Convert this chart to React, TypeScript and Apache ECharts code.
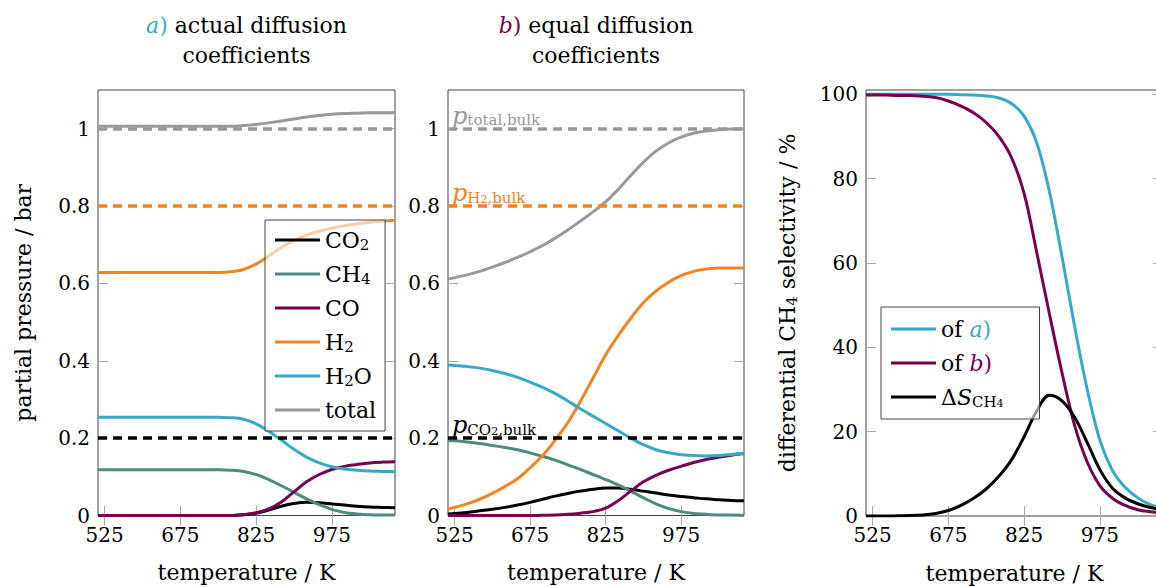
import React, { useEffect, useRef } from "react";
import * as echarts from "echarts";

const FONT = "DejaVu Serif";

const C_BLACK = "#000000";
const C_TEAL = "#4f8a7e";
const C_PURPLE = "#780050";
const C_ORANGE = "#f28420";
const C_BLUE = "#37a9c8";
const C_GREY = "#999999";

const X_TICKS = [525, 675, 825, 975];
const P_TICKS = [0, 0.2, 0.4, 0.6, 0.8, 1];
const S_TICKS = [0, 20, 40, 60, 80, 100];

const T_MIN = 512;
const T_MAX = 1100;

// bulk partial pressures (dashed reference lines)
const BULK_VALUES = [1.0, 0.8, 0.2];
const BULK_COLORS = [C_GREY, C_ORANGE, C_BLACK];
const BULK_LABELS = ["{p|p}{s|total,bulk}", "{p|p}{s|H}{ss|2}{s|,bulk}", "{p|p}{s|CO}{ss|2}{s|,bulk}"];

// temperature grid (K)
const TEMPS = [512, 525, 550, 575, 600, 625, 650, 675, 700, 725, 750, 775, 800, 825, 850, 875, 900, 925, 950, 975, 1000, 1025, 1050, 1075, 1100];

// a) actual diffusion coefficients — partial pressures / bar
const CO2_A = [0, 0, 0, 0, 0, 0, 0, 0, 0, 0, 0, 0, 0.002, 0.006, 0.014, 0.024, 0.031, 0.034, 0.033, 0.03, 0.027, 0.024, 0.022, 0.021, 0.02];
const CH4_A = [0.118, 0.118, 0.118, 0.118, 0.118, 0.118, 0.118, 0.118, 0.118, 0.118, 0.118, 0.117, 0.114, 0.106, 0.093, 0.077, 0.06, 0.043, 0.028, 0.016, 0.008, 0.004, 0.002, 0.001, 0.001];
const CO_A = [0, 0, 0, 0, 0, 0, 0, 0, 0, 0, 0, 0, 0.002, 0.007, 0.017, 0.035, 0.061, 0.087, 0.106, 0.119, 0.127, 0.132, 0.136, 0.138, 0.139];
const H2_A = [0.628, 0.628, 0.628, 0.628, 0.628, 0.628, 0.628, 0.628, 0.628, 0.628, 0.628, 0.63, 0.636, 0.65, 0.671, 0.693, 0.711, 0.725, 0.735, 0.743, 0.749, 0.754, 0.758, 0.761, 0.763];
const H2O_A = [0.254, 0.254, 0.254, 0.254, 0.254, 0.254, 0.254, 0.254, 0.254, 0.254, 0.254, 0.253, 0.249, 0.237, 0.218, 0.195, 0.171, 0.151, 0.136, 0.126, 0.12, 0.117, 0.115, 0.114, 0.113];
const TOTAL_A = [1.006, 1.006, 1.006, 1.006, 1.006, 1.006, 1.006, 1.006, 1.006, 1.006, 1.006, 1.006, 1.008, 1.011, 1.015, 1.02, 1.025, 1.03, 1.034, 1.037, 1.039, 1.04, 1.041, 1.041, 1.041];

// b) equal diffusion coefficients — partial pressures / bar
const CO2_B = [0.004, 0.005, 0.008, 0.012, 0.016, 0.021, 0.027, 0.034, 0.042, 0.05, 0.057, 0.063, 0.068, 0.071, 0.071, 0.068, 0.063, 0.058, 0.053, 0.049, 0.046, 0.043, 0.041, 0.039, 0.038];
const CH4_B = [0.194, 0.193, 0.19, 0.186, 0.181, 0.176, 0.17, 0.162, 0.153, 0.143, 0.131, 0.119, 0.106, 0.093, 0.079, 0.063, 0.046, 0.03, 0.018, 0.01, 0.005, 0.003, 0.001, 0.001, 0];
const CO_B = [0, 0, 0, 0, 0, 0, 0, 0, 0.0005, 0.001, 0.003, 0.006, 0.01, 0.019, 0.038, 0.063, 0.087, 0.104, 0.117, 0.127, 0.137, 0.145, 0.151, 0.156, 0.16];
const H2_B = [0.016, 0.021, 0.03, 0.042, 0.057, 0.075, 0.095, 0.123, 0.155, 0.195, 0.24, 0.295, 0.355, 0.415, 0.465, 0.51, 0.55, 0.58, 0.603, 0.62, 0.631, 0.637, 0.64, 0.64, 0.64];
const H2O_B = [0.389, 0.388, 0.385, 0.381, 0.375, 0.367, 0.357, 0.345, 0.331, 0.315, 0.296, 0.276, 0.257, 0.238, 0.219, 0.2, 0.183, 0.17, 0.162, 0.157, 0.155, 0.154, 0.155, 0.158, 0.161];
const TOTAL_B = [0.611, 0.615, 0.622, 0.631, 0.642, 0.654, 0.667, 0.682, 0.698, 0.717, 0.738, 0.761, 0.785, 0.811, 0.843, 0.879, 0.913, 0.942, 0.963, 0.978, 0.988, 0.994, 0.997, 0.999, 1.0];

// differential CH4 selectivity / %
const SEL_A = [100, 100, 100, 100, 100, 100, 100, 100, 99.9, 99.8, 99.6, 99.1, 97.8, 94.8, 88.5, 77, 61.5, 45, 30, 18, 10.8, 6.8, 4.3, 2.7, 1.8];
const SEL_B = [99.8, 99.8, 99.8, 99.7, 99.7, 99.5, 99.2, 98.4, 97.2, 95.6, 93.3, 90, 85, 76.5, 62.5, 48, 34, 21.5, 12.8, 7.2, 4.2, 2.5, 1.5, 1.0, 0.7];
const DELTA_S = [0, 0, 0, 0.05, 0.1, 0.25, 0.6, 1.3, 2.5, 4.2, 6.4, 9.4, 13.3, 18.8, 24.9, 28.6, 27.3, 23.4, 17.4, 11, 6.6, 4.3, 2.9, 2.0, 1.5];

const SPECIES = ["CO2", "CH4", "CO", "H2", "H2O", "total"];
const SPECIES_RICH = ["CO{s|2}", "CH{s|4}", "CO", "H{s|2}", "H{s|2}O", "total"];
const SPECIES_COLORS = [C_BLACK, C_TEAL, C_PURPLE, C_ORANGE, C_BLUE, C_GREY];
const A_VALUES = [CO2_A, CH4_A, CO_A, H2_A, H2O_A, TOTAL_A];
const B_VALUES = [CO2_B, CH4_B, CO_B, H2_B, H2O_B, TOTAL_B];

const SEL_NAMES = ["of a)", "of b)", "dS"];
const SEL_RICH = ["of {ai|a}{ap|)}", "of {bi|b}{bp|)}", "Δ{it|S}{s|CH}{ss|4}"];
const SEL_COLORS = [C_BLUE, C_PURPLE, C_BLACK];
const SEL_VALUES = [SEL_A, SEL_B, DELTA_S];

const TICK_COLOR = "#aaaaaa";
const BORDER = "#444444";

const subRich = (color: string, base = 22) => ({
  s: { fontFamily: FONT, fontSize: 15, lineHeight: 10, verticalAlign: "bottom", color },
  ss: { fontFamily: FONT, fontSize: 11, lineHeight: 4, verticalAlign: "bottom", color },
  it: { fontFamily: FONT, fontSize: base, fontStyle: "italic", lineHeight: 24, color },
  ai: { fontFamily: FONT, fontSize: base, fontStyle: "italic", lineHeight: 24, color: C_BLUE },
  ap: { fontFamily: FONT, fontSize: base, lineHeight: 24, color: C_BLUE },
  bi: { fontFamily: FONT, fontSize: base, fontStyle: "italic", lineHeight: 24, color: C_PURPLE },
  bp: { fontFamily: FONT, fontSize: base, lineHeight: 24, color: C_PURPLE },
});

function xAxesFor(gridIndex: number) {
  const tick = { show: true, inside: true, length: 10, customValues: X_TICKS, lineStyle: { color: TICK_COLOR, width: 1 } };
  return [
    {
      type: "value",
      gridIndex,
      min: T_MIN,
      max: T_MAX,
      position: "bottom",
      splitLine: { show: false },
      axisLine: { show: false },
      axisTick: tick,
      axisLabel: { customValues: X_TICKS, fontFamily: FONT, fontSize: 20, color: "#000", margin: 9 },
      name: "temperature / K",
      nameLocation: "middle",
      nameGap: 46,
      nameTextStyle: { fontFamily: FONT, fontSize: 22, color: "#000" },
    },
    {
      type: "value",
      gridIndex,
      min: T_MIN,
      max: T_MAX,
      position: "top",
      splitLine: { show: false },
      axisLine: { show: false },
      axisTick: tick,
      axisLabel: { show: false },
    },
  ];
}

function yAxesFor(gridIndex: number, max: number, ticks: number[], name: string, nameGap: number) {
  const tick = { show: true, inside: true, length: 10, customValues: ticks, lineStyle: { color: TICK_COLOR, width: 1 } };
  return [
    {
      type: "value",
      gridIndex,
      min: 0,
      max,
      position: "left",
      splitLine: { show: false },
      axisLine: { show: false },
      axisTick: tick,
      axisLabel: { customValues: ticks, fontFamily: FONT, fontSize: 20, color: "#000", margin: 8 },
      name,
      nameLocation: "middle",
      nameGap,
      nameTextStyle: { fontFamily: FONT, fontSize: 22, lineHeight: 24, color: "#000", rich: subRich("#000") },
    },
    {
      type: "value",
      gridIndex,
      min: 0,
      max,
      position: "right",
      splitLine: { show: false },
      axisLine: { show: false },
      axisTick: tick,
      axisLabel: { show: false },
    },
  ];
}

function lineSeries(name: string, xi: number, yi: number, V: number[], color: string, extra: any = {}) {
  return {
    type: "line",
    name,
    xAxisIndex: xi,
    yAxisIndex: yi,
    data: TEMPS.map((t, i) => [t, V[i]]),
    symbol: "none",
    smooth: 0.35,
    color,
    itemStyle: { color },
    lineStyle: { color, width: 3 },
    silent: true,
    ...extra,
  };
}

function bulkMarkLine(withLabels: boolean) {
  return {
    silent: true,
    symbol: ["none", "none"],
    animation: false,
    data: BULK_VALUES.map((v, i) => ({
      yAxis: v,
      lineStyle: { color: BULK_COLORS[i], type: [9, 6], width: 3.5 },
      label: withLabels
        ? {
            show: true,
            position: "insideStartTop",
            distance: [4, 1],
            formatter: BULK_LABELS[i],
            color: BULK_COLORS[i],
            rich: {
              p: { fontFamily: FONT, fontSize: 24, fontStyle: "italic", lineHeight: 24, color: BULK_COLORS[i] },
              s: { fontFamily: FONT, fontSize: 15, lineHeight: 10, verticalAlign: "bottom", color: BULK_COLORS[i] },
              ss: { fontFamily: FONT, fontSize: 11, lineHeight: 4, verticalAlign: "bottom", color: BULK_COLORS[i] },
            },
          }
        : { show: false },
    })),
  };
}

export default function App() {
  const ref = useRef<HTMLDivElement>(null);

  useEffect(() => {
    if (!ref.current) return;
    const chart = echarts.init(ref.current, undefined, { renderer: "svg" });

    const series: any[] = [];
    SPECIES.forEach((sp, i) => {
      series.push(lineSeries(sp, 0, 0, A_VALUES[i], SPECIES_COLORS[i], i === 0 ? { markLine: bulkMarkLine(false) } : {}));
    });
    SPECIES.forEach((sp, i) => {
      series.push(lineSeries(sp + " (b)", 2, 2, B_VALUES[i], SPECIES_COLORS[i], i === 0 ? { markLine: bulkMarkLine(true) } : {}));
    });
    SEL_NAMES.forEach((n, i) => {
      series.push(lineSeries(n, 4, 4, SEL_VALUES[i], SEL_COLORS[i]));
    });

    const legendBase = {
      orient: "vertical",
      icon: "rect",
      itemWidth: 45,
      itemHeight: 3,
      itemGap: 10,
      selectedMode: false,
      backgroundColor: "rgba(255,255,255,0.6)",
      borderColor: BORDER,
      borderWidth: 1,
      borderRadius: 0,
      z: 10,
    };

    const gridBase = { show: true, borderColor: BORDER, borderWidth: 1, backgroundColor: "transparent", containLabel: false, outerBoundsMode: "none" };

    const option: any = {
      animation: false,
      grid: [
        { ...gridBase, left: 98, top: 90, width: 297, height: 425.5 },
        { ...gridBase, left: 448, top: 90, width: 296, height: 425.5 },
        { ...gridBase, left: 866, top: 90, width: 297, height: 426 },
      ],
      xAxis: [...xAxesFor(0), ...xAxesFor(1), ...xAxesFor(2)],
      yAxis: [
        ...yAxesFor(0, 1.1, P_TICKS, "partial pressure / bar", 63),
        ...yAxesFor(1, 1.1, P_TICKS, "", 50),
        ...yAxesFor(2, 101, S_TICKS, "differential CH{s|4} selectivity / %", 67),
      ],
      legend: [
        {
          ...legendBase,
          left: 265,
          top: 220,
          padding: [8, 9, 9, 10],
          data: SPECIES,
          formatter: (name: string) => SPECIES_RICH[SPECIES.indexOf(name)],
          textStyle: { fontFamily: FONT, fontSize: 22, lineHeight: 24, color: "#000", rich: subRich("#000") },
        },
        {
          ...legendBase,
          left: 881,
          top: 307,
          padding: [10, 36, 10, 10],
          data: SEL_NAMES,
          formatter: (name: string) => SEL_RICH[SEL_NAMES.indexOf(name)],
          textStyle: { fontFamily: FONT, fontSize: 22, lineHeight: 24, color: "#000", rich: subRich("#000") },
        },
      ],
      graphic: [
        {
          type: "text",
          x: 246.5,
          y: 10,
          silent: true,
          style: {
            text: "{ai|a}{ap|)} actual diffusion\ncoefficients",
            fontFamily: FONT,
            fontSize: 22,
            lineHeight: 30,
            fill: "#000",
            align: "center",
            verticalAlign: "top",
            rich: {
              ai: { fontFamily: FONT, fontSize: 22, fontStyle: "italic", lineHeight: 30, fill: C_BLUE },
              ap: { fontFamily: FONT, fontSize: 22, lineHeight: 30, fill: C_BLUE },
            },
          },
        },
        {
          type: "text",
          x: 596,
          y: 10,
          silent: true,
          style: {
            text: "{bi|b}{bp|)} equal diffusion\ncoefficients",
            fontFamily: FONT,
            fontSize: 22,
            lineHeight: 30,
            fill: "#000",
            align: "center",
            verticalAlign: "top",
            rich: {
              bi: { fontFamily: FONT, fontSize: 22, fontStyle: "italic", lineHeight: 30, fill: C_PURPLE },
              bp: { fontFamily: FONT, fontSize: 22, lineHeight: 30, fill: C_PURPLE },
            },
          },
        },
      ],
      series,
    };

    chart.setOption(option);
    return () => chart.dispose();
  }, []);

  return (
    <div
      ref={ref}
      style={{ position: "fixed", left: 0, top: 0, width: 1156, height: 587, background: "#fff" }}
    />
  );
}
